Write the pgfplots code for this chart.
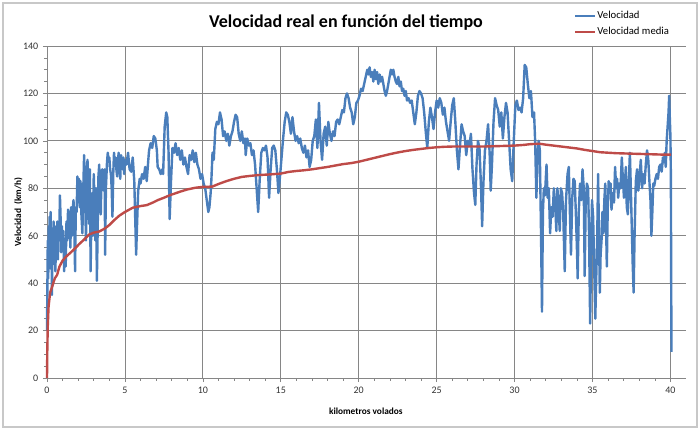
\documentclass[border=0pt]{standalone}
\usepackage{pgfplots}
\pgfplotsset{compat=1.18}
\usepackage{fontspec}
\setmainfont{Carlito}
\definecolor{exblue}{RGB}{74,126,187}
\definecolor{exred}{RGB}{190,75,72}
\definecolor{exgrid}{RGB}{134,134,134}
\begin{document}
\begin{tikzpicture}
\path (0,0) rectangle (525pt,321.75pt);
\draw[draw={rgb,255:red,200;green,200;blue,200}, line width=0.8pt] (2.25pt,1.5pt) rectangle (522.75pt,319.5pt);
\begin{axis}[
  at={(35.25pt,38.25pt)}, anchor=south west,
  scale only axis,
  width=479.25pt, height=249pt,
  xmin=0, xmax=41, ymin=0, ymax=140,
  axis x line*=bottom, axis y line*=left,
  axis line style={-, draw=exgrid, line width=0.6pt},
  xtick={0,5,...,40}, ytick={0,20,...,140},
  minor x tick num=4, minor y tick num=3,
  tick align=outside,
  major tick length=3pt, minor tick length=2pt,
  every tick/.style={exgrid, line width=0.5pt},
  grid=major,
  major grid style={exgrid, line width=0.6pt},
  /pgf/number format/assume math mode=true,
  ticklabel style={font=\fontsize{7.5}{9}\selectfont, text=black!80},
  title={\textbf{Velocidad real en función del tiempo}},
  every axis title shift=0pt,
  title style={at={(axis description cs:0.468,1.072)}, anchor=center, font=\fontsize{13.5}{15}\selectfont},
  xlabel={\textbf{kilometros volados}},
  xlabel style={at={(axis description cs:0.499,-0.099)}, anchor=center, font=\fontsize{7}{8}\selectfont},
  ylabel={\textbf{Velocidad \ (km/h)}},
  ylabel style={at={(axis description cs:-0.045,0.5)}, anchor=center, font=\fontsize{7}{8}\selectfont},
  legend style={at={(axis description cs:0.818,1.116)}, anchor=north west, draw=none, fill=none,
    font=\fontsize{8}{9}\selectfont, row sep=3pt, nodes={inner sep=0.8pt}},
  legend cell align=left,
  legend image code/.code={\draw[#1] (0pt,0pt) -- (15pt,0pt);},
  clip=false,
]
\addplot[exblue, line width=1.8pt, line join=round] coordinates {
(0.00,20) (0.02,35) (0.05,58) (0.08,42) (0.11,64) (0.14,50) (0.17,68) (0.20,56) (0.23,70) (0.26,46)
(0.29,62) (0.32,35) (0.35,60) (0.38,50) (0.42,66) (0.46,48) (0.50,64) (0.54,45) (0.58,62) (0.62,52)
(0.66,66) (0.70,50) (0.74,64) (0.78,58) (0.83,77) (0.87,68) (0.91,53) (0.95,64) (1.00,56) (1.05,62)
(1.10,45) (1.15,58) (1.20,47) (1.25,66) (1.30,58) (1.35,71) (1.40,62) (1.45,70) (1.50,55) (1.55,72)
(1.60,60) (1.65,71) (1.70,75) (1.75,66) (1.80,45) (1.85,72) (1.90,70) (1.95,85) (2.00,80) (2.05,84)
(2.10,72) (2.15,83) (2.20,70) (2.27,61) (2.33,80) (2.38,94) (2.44,80) (2.50,58) (2.55,86) (2.60,92)
(2.65,75) (2.70,65) (2.75,88) (2.80,45) (2.85,70) (2.90,78) (2.95,60) (3.00,86) (3.05,74) (3.10,58)
(3.15,80) (3.20,41) (3.25,62) (3.30,85) (3.35,90) (3.40,75) (3.45,69) (3.50,87) (3.55,88) (3.60,80)
(3.65,79) (3.70,88) (3.73,52) (3.78,80) (3.85,91) (3.90,95) (3.95,92) (4.00,93) (4.05,88) (4.10,86)
(4.15,80) (4.20,68) (4.25,86) (4.30,95) (4.35,90) (4.40,93) (4.45,88) (4.50,85) (4.55,92) (4.60,95)
(4.65,89) (4.70,84) (4.75,94) (4.80,91) (4.85,88) (4.90,93) (4.95,86) (5.00,92) (5.10,90) (5.20,95)
(5.30,88) (5.40,87) (5.50,93) (5.60,83) (5.65,70) (5.72,52) (5.78,65) (5.85,79) (5.95,84) (6.00,82)
(6.10,86) (6.20,84) (6.30,89) (6.40,83) (6.50,92) (6.55,96) (6.65,99) (6.75,97) (6.85,102) (6.95,101)
(7.05,96) (7.10,89) (7.20,88) (7.30,86) (7.40,88) (7.45,86) (7.55,106) (7.65,112) (7.72,110) (7.80,95)
(7.87,67) (7.95,82) (8.05,97) (8.15,95) (8.25,99) (8.35,94) (8.45,97) (8.55,92) (8.65,96) (8.75,90)
(8.85,93) (8.95,89) (9.05,86) (9.15,94) (9.25,92) (9.35,96) (9.45,91) (9.55,95) (9.65,90) (9.75,88)
(9.85,84) (9.95,86) (10.05,82) (10.15,80) (10.25,75) (10.35,70) (10.42,72) (10.50,78) (10.55,84) (10.62,95)
(10.70,92) (10.80,105) (10.90,108) (11.00,107) (11.10,112) (11.20,109) (11.30,102) (11.40,104) (11.50,100) (11.60,103)
(11.70,98) (11.80,102) (11.90,104) (12.00,108) (12.10,111) (12.20,110) (12.30,103) (12.40,100) (12.50,104) (12.60,99)
(12.70,101) (12.75,94) (12.85,101) (12.95,98) (13.05,99) (13.15,94) (13.25,96) (13.35,90) (13.45,80) (13.55,70)
(13.65,84) (13.75,95) (13.85,97) (13.95,96) (14.05,98) (14.15,93) (14.25,76) (14.35,88) (14.45,97) (14.55,98)
(14.65,96) (14.75,88) (14.85,78) (14.95,85) (15.05,93) (15.15,101) (15.25,108) (15.35,112) (15.45,111) (15.55,108)
(15.65,103) (15.75,110) (15.85,104) (15.95,100) (16.05,102) (16.15,99) (16.25,101) (16.35,97) (16.45,95) (16.55,98)
(16.65,93) (16.75,96) (16.85,89) (16.95,92) (17.05,100) (17.15,102) (17.25,109) (17.35,97) (17.45,116) (17.55,100)
(17.65,92) (17.75,103) (17.85,106) (17.95,98) (18.05,108) (18.15,103) (18.25,100) (18.35,104) (18.45,102) (18.55,108)
(18.65,109) (18.75,107) (18.85,110) (18.95,113) (19.05,112) (19.15,118) (19.25,120) (19.35,118) (19.45,114) (19.55,112)
(19.65,107) (19.75,110) (19.85,116) (19.95,117) (20.05,119) (20.15,122) (20.25,121) (20.35,124) (20.45,127) (20.55,130)
(20.62,128) (20.70,131) (20.78,127) (20.86,129) (20.94,125) (21.02,130) (21.10,126) (21.18,129) (21.26,124) (21.34,128)
(21.42,125) (21.50,127) (21.58,124) (21.66,121) (21.74,119) (21.82,121) (21.90,124) (21.98,127) (22.06,130) (22.14,128)
(22.22,130) (22.30,127) (22.38,125) (22.46,124) (22.54,127) (22.62,123) (22.70,125) (22.78,121) (22.86,122) (22.94,119)
(23.02,121) (23.10,117) (23.20,118) (23.30,116) (23.40,117) (23.50,112) (23.60,107) (23.70,112) (23.80,119) (23.90,121)
(24.00,120) (24.10,118) (24.20,112) (24.30,104) (24.40,97) (24.50,108) (24.60,114) (24.70,110) (24.80,105) (24.90,112)
(25.00,117) (25.10,114) (25.20,118) (25.30,116) (25.40,111) (25.50,114) (25.60,108) (25.70,104) (25.80,100) (25.90,108)
(26.00,115) (26.10,118) (26.20,108) (26.30,96) (26.40,88) (26.50,98) (26.60,107) (26.70,104) (26.80,102) (26.90,94)
(27.00,100) (27.10,98) (27.20,103) (27.30,88) (27.40,78) (27.48,73) (27.56,90) (27.65,100) (27.75,97) (27.85,80)
(27.92,64) (28.00,82) (28.10,96) (28.20,100) (28.30,107) (28.40,95) (28.47,79) (28.55,90) (28.65,108) (28.75,118)
(28.85,115) (28.95,113) (29.05,106) (29.15,112) (29.25,101) (29.35,110) (29.45,116) (29.55,112) (29.65,100) (29.75,88)
(29.85,83) (29.95,100) (30.05,115) (30.15,117) (30.25,113) (30.35,114) (30.45,112) (30.55,118) (30.65,132) (30.75,131)
(30.85,124) (30.95,118) (31.05,121) (31.15,110) (31.25,112) (31.32,100) (31.40,76) (31.48,95) (31.55,100) (31.62,96)
(31.70,60) (31.76,28) (31.82,70) (31.88,80) (31.95,77) (32.05,90) (32.12,76) (32.20,80) (32.28,61) (32.36,72)
(32.44,68) (32.52,80) (32.60,74) (32.68,62) (32.75,80) (32.82,72) (32.90,62) (32.97,80) (33.05,78) (33.12,70)
(33.22,45) (33.30,75) (33.40,86) (33.48,89) (33.55,70) (33.62,52) (33.70,76) (33.78,84) (33.86,83) (33.93,70)
(34.00,55) (34.05,42) (34.12,70) (34.20,82) (34.28,75) (34.36,88) (34.44,80) (34.50,43) (34.56,72) (34.64,82)
(34.72,80) (34.78,60) (34.85,23) (34.92,58) (34.97,75) (35.04,68) (35.10,50) (35.18,25) (35.25,45) (35.30,58)
(35.36,86) (35.42,60) (35.47,36) (35.52,52) (35.58,58) (35.64,70) (35.70,61) (35.76,75) (35.82,82) (35.87,65)
(35.92,47) (35.98,72) (36.04,83) (36.10,79) (36.16,82) (36.22,71) (36.30,78) (36.38,74) (36.45,89) (36.52,80)
(36.58,84) (36.65,76) (36.72,82) (36.80,80) (36.88,93) (36.95,84) (37.02,76) (37.08,82) (37.14,89) (37.20,72)
(37.27,69) (37.34,84) (37.40,95) (37.46,80) (37.52,64) (37.58,48) (37.64,36) (37.70,60) (37.78,83) (37.86,88)
(37.94,79) (38.02,85) (38.10,92) (38.18,80) (38.26,86) (38.34,82) (38.42,90) (38.50,96) (38.58,92) (38.66,82)
(38.72,75) (38.78,60) (38.84,70) (38.90,82) (38.96,81) (39.04,84) (39.12,86) (39.20,84) (39.28,89) (39.36,90)
(39.44,87) (39.52,93) (39.58,91) (39.64,95) (39.70,89) (39.76,100) (39.82,106) (39.88,112) (39.92,119) (39.96,110)
(40.00,102) (40.03,85) (40.05,40) (40.07,11)
};
\addlegendentry{Velocidad}
\addplot[exred, line width=1.8pt, line join=round] coordinates {
(0,0) (0.02,12) (0.05,22) (0.1,30) (0.2,36) (0.33,38.5) (0.5,42) (0.65,43.5) (0.8,47) (1.0,49.5)
(1.2,51) (1.45,52.5) (1.7,54) (2.07,56.5) (2.4,58.5) (2.7,60.5) (3.0,61.3) (3.36,61.8) (3.7,63) (4.0,64.5)
(4.3,66.5) (4.65,68.5) (5.0,70) (5.5,71.8) (6.0,72.5) (6.4,72.9) (6.8,74) (7.1,75) (7.5,76) (7.85,77)
(8.2,77.8) (8.6,78.7) (9.0,79.5) (9.5,80.2) (10.0,80.6) (10.6,80.7) (11.0,81.8) (11.5,83) (12.0,84) (12.5,84.8)
(13.0,85.2) (13.6,85.6) (14.2,85.8) (15.0,86.2) (15.5,86.9) (16.0,87.3) (16.5,87.6) (17.0,88) (17.5,88.5) (18.0,89)
(18.5,89.6) (19.0,90.2) (19.5,90.6) (20.0,91.2) (20.5,92) (21.0,92.8) (21.5,93.6) (22.0,94.4) (22.5,95.1) (23.0,95.7)
(23.5,96.2) (24.0,96.6) (24.5,97) (25.0,97.3) (25.5,97.5) (26.0,97.6) (27.0,97.6) (28.0,97.6) (29.0,97.8) (30.0,98)
(30.6,98.3) (31.0,98.6) (31.6,98.8) (32.0,98.4) (32.5,98) (33.0,97.6) (33.5,97.2) (34.0,96.8) (34.5,96.2) (35.0,95.7)
(35.5,95.2) (36.0,95) (36.5,94.8) (37.0,94.7) (37.5,94.6) (38.0,94.5) (38.5,94.4) (39.0,94.3) (39.5,94.2) (40.05,94.2)
};
\addlegendentry{Velocidad media}
\end{axis}
\end{tikzpicture}
\end{document}
